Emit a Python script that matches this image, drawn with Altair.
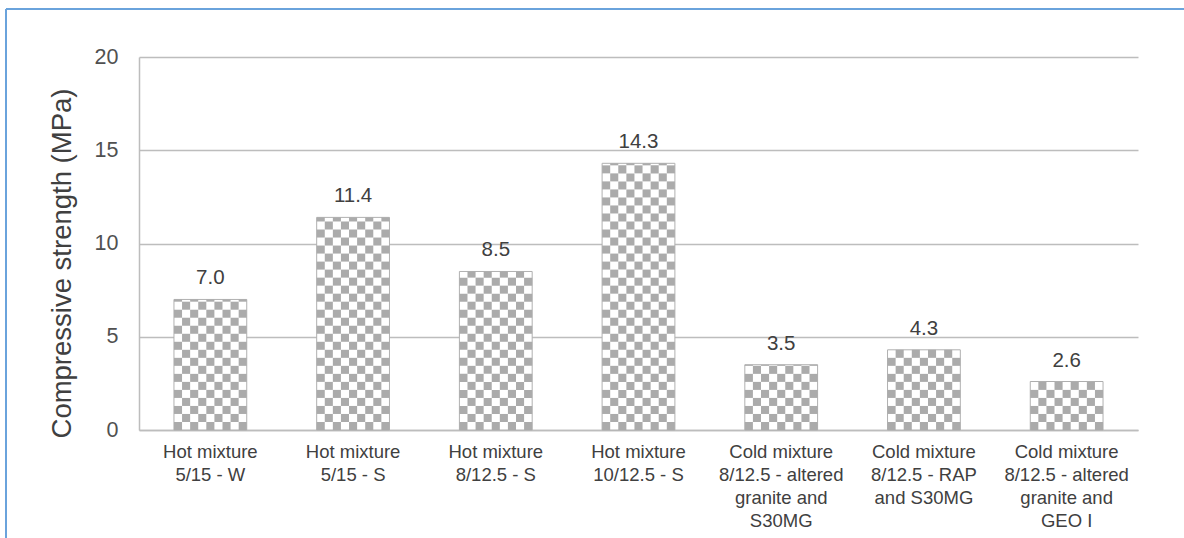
import math
import altair as alt
import pandas as pd

# Compressive strength per mixture (MPa)
categories = [
    "Hot mixture\n5/15 - W",
    "Hot mixture\n5/15 - S",
    "Hot mixture\n8/12.5 - S",
    "Hot mixture\n10/12.5 - S",
    "Cold mixture\n8/12.5 - altered\ngranite and\nS30MG",
    "Cold mixture\n8/12.5 - RAP\nand S30MG",
    "Cold mixture\n8/12.5 - altered\ngranite and\nGEO I",
]
strength = [7.0, 11.4, 8.5, 14.3, 3.5, 4.3, 2.6]

y_ticks = [0, 5, 10, 15, 20]

FONT = "Liberation Sans"
TEXT = "#404040"
GRID = "#bdbdbd"
CHECK = "#ababab"
FRAME = "#6aa3dc"

W, H = 999, 373
PAD_L, PAD_T, PAD_R, PAD_B = 139, 57, 46, 108

bars = pd.DataFrame({"cat": categories, "value": strength})

# checkerboard fill: grey cells inside each bar, 9 columns wide
n_cols = 9
cell = 0.43  # cell height in MPa
cells = []
for cat, v in zip(categories, strength):
    n_rows = math.ceil(v / cell)
    for r in range(n_rows):
        y0 = r * cell
        y1 = min((r + 1) * cell, v)
        for c in range(n_cols):
            if (r + c) % 2 == 0:
                cells.append({"cat": cat, "col": c, "y0": y0, "y1": y1})
cells = pd.DataFrame(cells)

x_scale = alt.Scale(domain=categories, paddingInner=0.49, paddingOuter=0.245)
y_scale = alt.Scale(domain=[0, 20], nice=False)

x_enc = alt.X(
    "cat:N",
    scale=x_scale,
    sort=categories,
    axis=alt.Axis(
        title=None,
        labelAngle=0,
        labelExpr="split(datum.value, '\\n')",
        labelFont=FONT,
        labelFontSize=18.5,
        labelColor=TEXT,
        labelLineHeight=23,
        labelPadding=12,
        labelBaseline="top",
        ticks=False,
        domain=True,
        domainColor=GRID,
        domainWidth=1.5,
        labelLimit=300,
    ),
)

y_axis = alt.Axis(
    values=y_ticks,
    title="Compressive strength (MPa)",
    titleFont=FONT,
    titleFontSize=27.5,
    titleFontWeight="normal",
    titleColor=TEXT,
    titleAngle=-90,
    titleX=-77,
    titleY=206,
    titleAlign="center",
    titleBaseline="middle",
    labelFont=FONT,
    labelFontSize=21.5,
    labelColor="#505050",
    labelPadding=21,
    ticks=False,
    grid=True,
    gridColor=GRID,
    gridWidth=1.5,
    domain=True,
    domainColor=GRID,
    domainWidth=1.5,
)

base_bars = alt.Chart(bars).mark_bar(
    fill="white", stroke="#b0b0b0", strokeWidth=1
).encode(
    x=x_enc,
    y=alt.Y("value:Q", scale=y_scale, axis=y_axis),
)

checker = alt.Chart(cells).mark_rect(fill=CHECK, strokeWidth=0).encode(
    x=alt.X("cat:N", scale=x_scale, sort=categories),
    xOffset=alt.XOffset(
        "col:O", scale=alt.Scale(paddingInner=0, paddingOuter=0)
    ),
    y=alt.Y("y0:Q", scale=y_scale),
    y2="y1:Q",
)

labels = alt.Chart(bars).mark_text(
    font=FONT, fontSize=20.5, color=TEXT, baseline="alphabetic", dy=-15
).encode(
    x=alt.X("cat:N", scale=x_scale, sort=categories),
    y=alt.Y("value:Q", scale=y_scale),
    text=alt.Text("value:Q", format=".1f"),
)

# blue border along the top and left of the figure
frame_top = alt.Chart(bars).mark_rule(color=FRAME, strokeWidth=2).encode(
    x=alt.value(6 - PAD_L),
    x2=alt.value(W + PAD_R),
    y=alt.value(9 - PAD_T),
)
frame_left = alt.Chart(bars).mark_rule(color=FRAME, strokeWidth=2).encode(
    x=alt.value(6 - PAD_L),
    y=alt.value(9 - PAD_T),
    y2=alt.value(H + PAD_B),
)

chart = (
    alt.layer(base_bars, checker, labels, frame_top, frame_left)
    .properties(
        width=W,
        height=H,
        autosize=alt.AutoSizeParams(type="none"),
        padding={"left": PAD_L, "top": PAD_T, "right": PAD_R, "bottom": PAD_B},
        background="white",
    )
    .configure_view(stroke=None)
)

chart.save("out.html", embed_options={"renderer": "svg", "actions": False})
